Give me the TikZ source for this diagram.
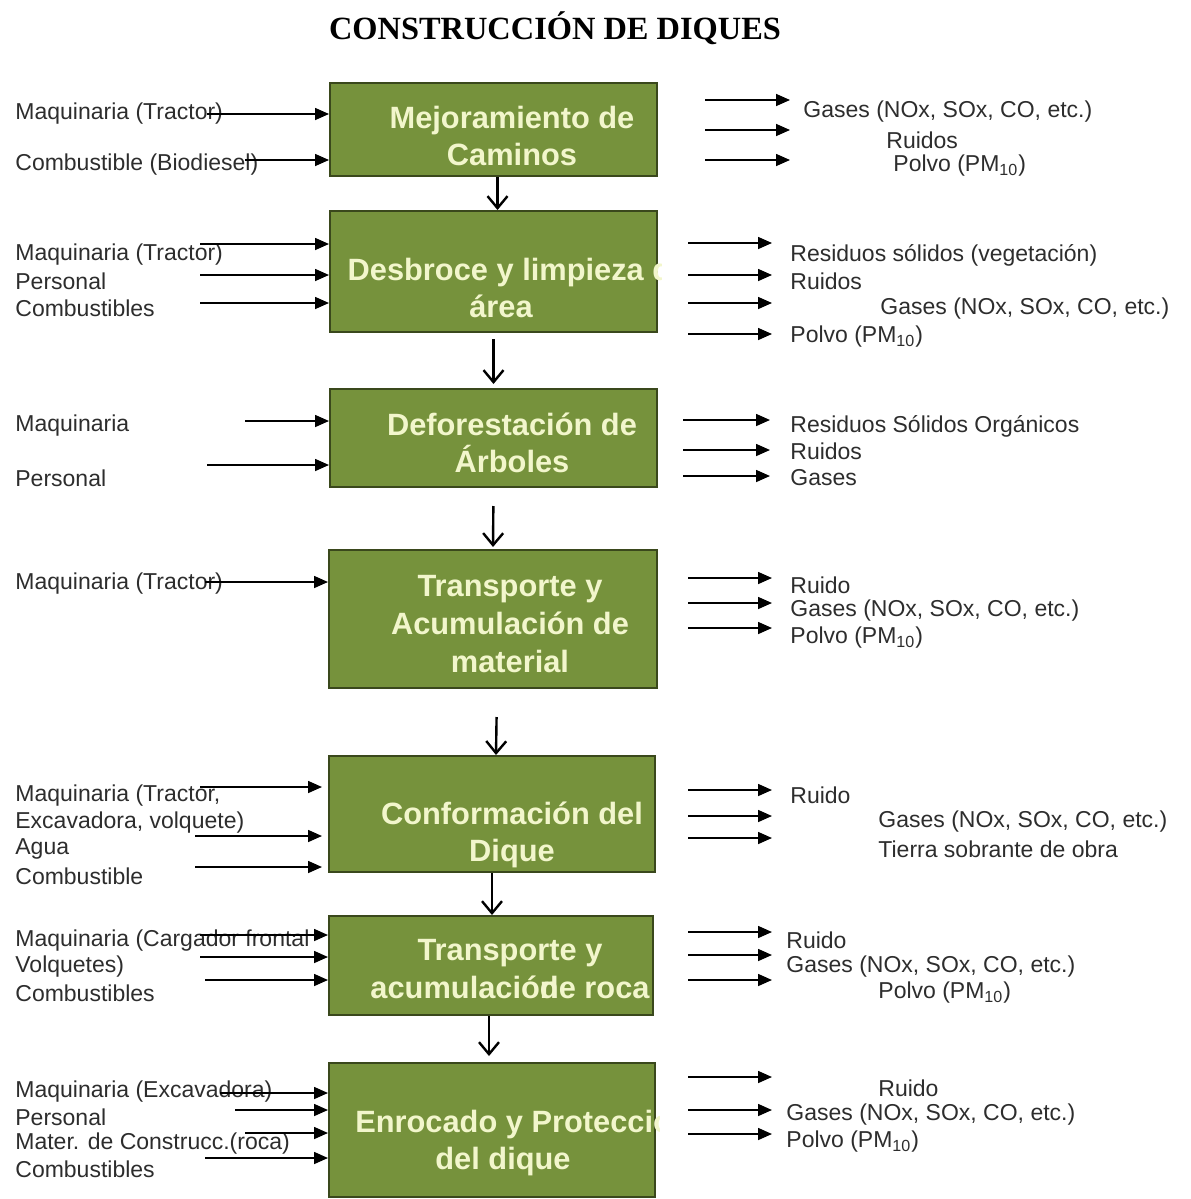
\documentclass[tikz,border=0pt]{standalone}
\usepackage{fontspec}
\setmainfont{Liberation Sans}
\newfontfamily\titlefont{Liberation Serif}
\usepackage{xcolor}
\usepackage{tikz}
\usetikzlibrary{shapes,arrows.meta,positioning,fit,calc}

\definecolor{procgreen}{RGB}{118,146,60}
\definecolor{procline}{RGB}{58,72,28}
\definecolor{proctext}{RGB}{242,246,204}
\definecolor{lbltext}{RGB}{45,45,45}

\begin{document}
\begin{tikzpicture}[x=0.5pt, y=-0.5pt,
    proc/.style={rectangle, draw=procline, line width=1pt, fill=procgreen, inner sep=0pt},
    ptext/.style={text=proctext, font=\fontsize{15.4}{18.8}\selectfont\bfseries, align=center},
    lbl/.style={anchor=west, inner sep=0pt, text=lbltext, font=\fontsize{11.5}{13.4}\selectfont, align=left},
    inarr/.style={line width=0.8pt, -{Triangle[length=7pt,width=6pt]}},
    down/.style={line width=1.2pt, -{Straight Barb[length=6pt,width=10pt]}}]
    \useasboundingbox (0,0) rectangle (1190,1199);

    \node (title) at (555,28) {\titlefont\bfseries\fontsize{16.2}{19}\selectfont CONSTRUCCIÓN DE DIQUES};

    \node [proc, fit={(330,83) (657,176)}] (mej) {};
    \node [proc, fit={(330,211) (657,332)}] (des) {};
    \node [proc, fit={(330,389) (657,487)}] (def) {};
    \node [proc, fit={(329,550) (657,688)}] (tra) {};
    \node [proc, fit={(329,756) (655,872)}] (con) {};
    \node [proc, fit={(329,916) (653,1015)}] (roc) {};
    \node [proc, fit={(329,1063) (655,1197)}] (enr) {};

    \node [ptext] (mejT) at (512,136) {Mejoramiento de\\Caminos};
    \begin{scope}
        \clip (des.south west) rectangle ([xshift=1.5pt]des.north east);
        \node [ptext] (desT) at (518,288) {Desbroce y limpieza de\\área\hspace*{17pt}};
    \end{scope}
    \node [ptext] (defT) at (512,443) {Deforestación de\\Árboles};
    \node [ptext] (traT) at (510,624) {Transporte y\\Acumulación de\\material};
    \node [ptext] (conT) at (512,835) {Conformación del\\Dique};
    \node [ptext] (rocT) at (510,969) {Transporte y\\acumulació\rlap{n}de roca};
    \begin{scope}
        \clip (enr.south west) rectangle ([xshift=1.5pt]enr.north east);
        \node [ptext] (enrT) at (523,1143) {Enrocado y Protección\\del dique\hspace*{20pt}};
    \end{scope}

    \draw [down] ([xshift=2pt]mej.south) -- ([xshift=2pt]des.north);
    \draw [down, shorten <=3pt, shorten >=2pt] (des.south) -- (def.north);
    \draw [down, shorten <=9pt, shorten >=1pt] (def.south) -- (tra.north);
    \draw [down, shorten <=14pt] ([xshift=2pt]tra.south) -- ([xshift=2pt]con.north);
    \draw [down] (con.south) -- (con.south |- roc.north);
    \draw [down, shorten >=3pt] ([xshift=-1pt]roc.south) -- ([xshift=-1pt]roc.south |- enr.north);

    \node [lbl] (mejMaq) at (15,114) {Maquinaria (Tractor)};
    \node [lbl] (mejComb) at (15,165) {Combustible (Biodiesel)};
    \node [lbl] (mejGas) at (803,112) {Gases (NOx, SOx, CO, etc.)};
    \node [lbl] (mejRui) at (886,140) {Ruidos};
    \node [lbl] (mejPol) at (893,166) {Polvo (PM\textsubscript{10})};

    \node [lbl] (desMaq) at (15,255) {Maquinaria (Tractor)};
    \node [lbl] (desPer) at (15,281) {Personal};
    \node [lbl] (desComb) at (15,308) {Combustibles};
    \node [lbl] (desRes) at (790,255) {Residuos sólidos (vegetación)};
    \node [lbl] (desRui) at (790,281) {Ruidos};
    \node [lbl] (desGas) at (880,309) {Gases (NOx, SOx, CO, etc.)};
    \node [lbl] (desPol) at (790,337) {Polvo (PM\textsubscript{10})};

    \node [lbl] (defMaq) at (15,426) {Maquinaria};
    \node [lbl] (defPer) at (15,478) {Personal};
    \node [lbl] (defRes) at (790,426) {Residuos Sólidos Orgánicos};
    \node [lbl] (defRui) at (790,451) {Ruidos};
    \node [lbl] (defGas) at (790,478) {Gases};

    \node [lbl] (traMaq) at (15,584) {Maquinaria (Tractor)};
    \node [lbl] (traRui) at (790,585) {Ruido};
    \node [lbl] (traGas) at (790,611) {Gases (NOx, SOx, CO, etc.)};
    \node [lbl] (traPol) at (790,638) {Polvo (PM\textsubscript{10})};

    \node [lbl] (conMaq) at (15,809) {Maquinaria (Tractor,\\Excavadora, volquete)};
    \node [lbl] (conAgua) at (15,849) {Agua};
    \node [lbl] (conComb) at (15,876) {Combustible};
    \node [lbl] (conRui) at (790,795) {Ruido};
    \node [lbl] (conGas) at (878,822) {Gases (NOx, SOx, CO, etc.)};
    \node [lbl] (conTie) at (878,849) {Tierra sobrante de obra};

    \node [lbl] (rocMaq) at (15,953.5) {Maquinaria (Cargador frontal\\Volquetes)};
    \node [lbl] (rocComb) at (15,993) {Combustibles};
    \node [lbl] (rocRui) at (786,940) {Ruido};
    \node [lbl] (rocGas) at (786,967) {Gases (NOx, SOx, CO, etc.)};
    \node [lbl] (rocPol) at (878,993) {Polvo (PM\textsubscript{10})};

    \node [lbl] (enrMaq) at (15,1092) {Maquinaria (Excavadora)};
    \node [lbl] (enrPer) at (15,1117) {Personal};
    \node [lbl] (enrMat) at (15,1144) {Mater. de Construcc.(roca)};
    \node [lbl] (enrComb) at (15,1169) {Combustibles};
    \node [lbl] (enrRui) at (878,1088) {Ruido};
    \node [lbl] (enrGas) at (786,1115) {Gases (NOx, SOx, CO, etc.)};
    \node [lbl] (enrPol) at (786,1142) {Polvo (PM\textsubscript{10})};

    \foreach \b/\n/\xs/\ys in {mej/a/207/114, mej/b/245/160,
        des/a/200/244, des/b/200/275, des/c/200/303,
        def/a/245/421, def/b/207/465,
        tra/a/205/582,
        roc/a/200/935, roc/b/200/957, roc/c/205/980,
        enr/a/220/1093, enr/b/235/1110, enr/c/245/1133, enr/d/205/1158} {
        \coordinate (\b-in-\n) at (\xs,\ys);
        \draw [inarr] (\b-in-\n) -- (\b-in-\n -| \b.west);
    }
    \foreach \n/\xs/\ys in {a/200/787, b/195/836, c/195/867} {
        \coordinate (con-in-\n) at (\xs,\ys);
        \draw [inarr, shorten >=3pt] (con-in-\n) -- (con-in-\n -| con.west);
    }

    \foreach \b/\xs/\xe/\ys in {mej/705/790/100, mej/705/790/130, mej/705/790/160,
        des/688/772/243, des/688/772/275, des/688/772/303, des/688/772/334,
        def/683/770/420, def/683/770/450, def/683/770/476,
        tra/688/772/578, tra/688/772/603, tra/688/772/628,
        con/688/772/790, con/688/772/816, con/688/772/838,
        roc/688/772/932, roc/688/772/955, roc/688/772/980,
        enr/688/772/1077, enr/688/772/1110, enr/688/772/1134} {
        \coordinate (\b-out-\ys) at (\xe,\ys);
        \draw [inarr] ($(\b-out-\ys -| \b.east)+(\xs,0)-(\b.east |- 0,0)$) -- (\b-out-\ys);
    }
\end{tikzpicture}
\end{document}
